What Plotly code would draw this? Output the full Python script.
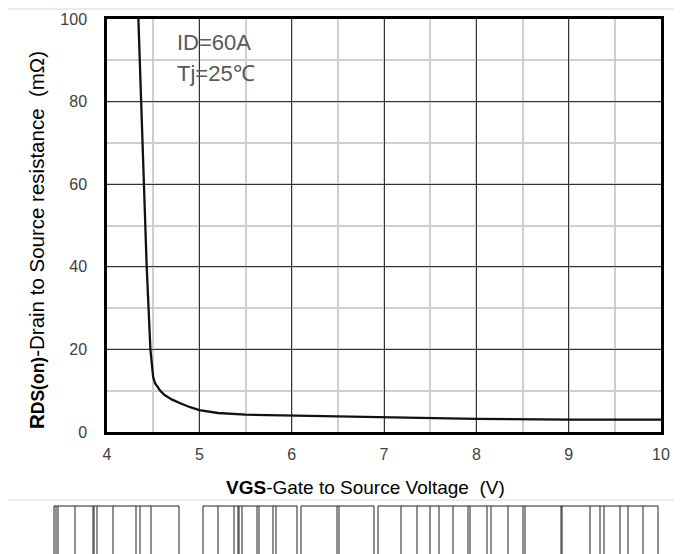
import plotly.graph_objects as go

# ---- data ----
vgs = [4.34, 4.37, 4.40, 4.43, 4.47, 4.485, 4.50, 4.52, 4.55, 4.58, 4.62, 4.70, 4.80, 4.90, 5.00, 5.20, 5.50, 6.00, 7.00, 8.00, 9.00, 10.00]
rds = [100, 80, 60, 40, 20, 15.5, 13.3, 11.8, 10.7, 9.9, 9.0, 7.9, 6.9, 6.0, 5.3, 4.6, 4.2, 4.0, 3.6, 3.2, 3.0, 3.0]
x_ticks = [4, 5, 6, 7, 8, 9, 10]
y_ticks = [0, 20, 40, 60, 80, 100]
notes = ["ID=60A", "Tj=25℃"]
x_title = "<b>VGS</b>-Gate to Source Voltage  (V)"
y_title = "<b>R<span style='font-size:17.5px'>DS(on)</span></b>-Drain to Source resistance  (mΩ)"

OFF = 8  # page body margin
W, H = 682 - OFF, 554 - OFF
L, R, T, B = 107 - OFF, 661 - OFF, 19 - OFF, 432 - OFF


def px(x):
    return (x - OFF - L) / (R - L)


def py(y):
    return (B - (y - OFF)) / (B - T)


fig = go.Figure()
fig.add_trace(go.Scatter(x=vgs, y=rds, mode="lines",
                         line=dict(color="#111111", width=2.3),
                         showlegend=False, hoverinfo="skip"))

font = "Liberation Sans, Arial, sans-serif"

fig.update_layout(
    width=W, height=H,
    margin=dict(l=L, r=W - R, t=T, b=H - B, autoexpand=False),
    paper_bgcolor="white", plot_bgcolor="white",
    font=dict(family=font, color="#404040"),
    xaxis=dict(range=[4, 10], tickvals=x_ticks, ticktext=[str(v) for v in x_ticks],
               showgrid=True, gridcolor="#333333", gridwidth=1,
               minor=dict(tick0=4, dtick=0.5, showgrid=True, gridcolor="#cfcfcf", gridwidth=1.5),
               showline=True, mirror=True, linecolor="black", linewidth=2.5,
               zeroline=False, ticks="outside", ticklen=6, tickcolor="rgba(0,0,0,0)",
               tickfont=dict(size=16, color="#404040"), automargin=False),
    yaxis=dict(range=[0, 100], tickvals=y_ticks, ticktext=[str(v) for v in y_ticks],
               showgrid=True, gridcolor="#333333", gridwidth=1,
               minor=dict(tick0=0, dtick=10, showgrid=True, gridcolor="#cfcfcf", gridwidth=1.5),
               showline=True, mirror=True, linecolor="black", linewidth=2.5,
               zeroline=False, ticks="outside", ticklen=14, tickcolor="rgba(0,0,0,0)",
               tickfont=dict(size=16, color="#404040"), automargin=False),
)

fig.add_annotation(x=px(365), y=py(487), xref="paper", yref="paper", text=x_title,
                   showarrow=False, xanchor="center", yanchor="middle",
                   font=dict(size=19, color="black"))
fig.add_annotation(x=px(36), y=py(240), xref="paper", yref="paper", text=y_title,
                   showarrow=False, xanchor="center", yanchor="middle", textangle=-90,
                   font=dict(size=20.5, color="black"))

fig.add_annotation(x=4.736, y=94.2, text=notes[0], showarrow=False, xanchor="left",
                   yanchor="middle", font=dict(size=22, color="#595959"))
fig.add_annotation(x=4.736, y=86.9, text=notes[1], showarrow=False, xanchor="left",
                   yanchor="middle", font=dict(size=22, color="#595959"))

shapes = []
# outer light frame
shapes.append(dict(type="rect", xref="paper", yref="paper",
                   x0=px(7), x1=px(700), y0=py(9), y1=py(500),
                   line=dict(color="#d9d9d9", width=1.2), layer="below"))

# scanned strip artifacts at the bottom
groups = [
    (54, 179, [56, 58, 75, 93, 94, 97, 113, 136, 140, 151]),
    (203, 297, [218, 234, 238, 239, 242, 257, 259, 273, 276]),
    (301, 374, [337, 339]),
    (378, 658, [401, 417, 430, 439, 453, 468, 470, 487, 491, 508, 523, 525, 561, 562, 590, 600, 604, 620, 628, 643]),
]
for x0, x1, inner in groups:
    shapes.append(dict(type="rect", xref="paper", yref="paper",
                       x0=px(x0), x1=px(x1), y0=py(506), y1=py(560),
                       line=dict(color="#222222", width=1)))
    for xi in inner:
        shapes.append(dict(type="line", xref="paper", yref="paper",
                           x0=px(xi), x1=px(xi), y0=py(506), y1=py(560),
                           line=dict(color="#222222", width=1)))

fig.update_layout(shapes=shapes)
fig.write_html("out.html")
